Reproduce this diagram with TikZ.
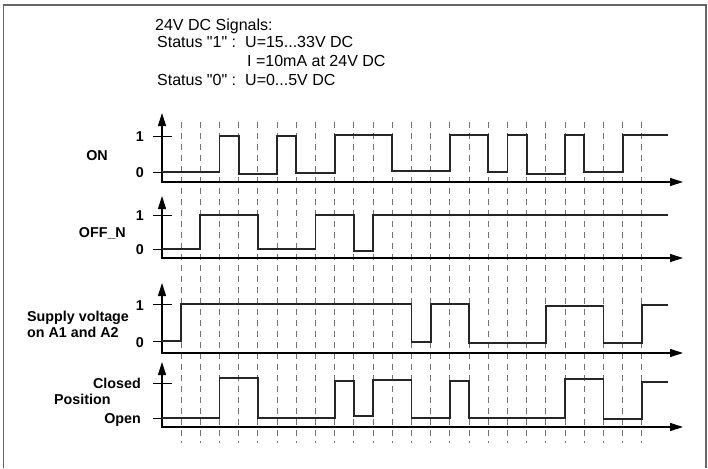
\documentclass[tikz,border=0pt]{standalone}
\usepackage{fontspec}
\setmainfont{Liberation Sans}
\usetikzlibrary{arrows.meta}

\begin{document}
\begin{tikzpicture}[x=1pt,y=-1pt,
	axes/.style={line width=1.1pt,{Triangle[length=13pt,width=8pt]}-{Triangle[length=13pt,width=8pt]}},
	grid/.style={black!55,line width=0.9pt,dash pattern=on 6pt off 5pt},
	sig/.style={black!85,line width=1.8pt},
	txt/.style={inner sep=0pt,font=\fontsize{16}{18}\selectfont},
	lbl/.style={inner sep=0pt,font=\bfseries\fontsize{14.3}{16}\selectfont}]
	\useasboundingbox (0,0) rectangle (708,468);
	
	%FRAME
	\draw[black!60,line width=1.5pt] (3.5,468)--(3.5,5)--(706,5)--(706,468);
	
	%HEADER
	\node[txt,anchor=base west] (title) at (155,31) {24V DC Signals:};
	\node[txt,anchor=base west] (stone) at (157,48) {Status \textquotedbl 1\textquotedbl\ :};
	\node[txt,anchor=base west] (uone) at (245,48) {U=15...33V DC};
	\node[txt,anchor=base west] (ione) at (247,67) {I =10mA at 24V DC};
	\node[txt,anchor=base west] (stzero) at (157,85) {Status \textquotedbl 0\textquotedbl\ :};
	\node[txt,anchor=base west] (uzero) at (245,85) {U=0...5V DC};
	
	%TIME GRID
	\foreach \i in {0,...,24}
		\draw[grid] ({181+19.2*\i},122)--({181+19.2*\i},443);
	
	%AXES
	\draw[axes] (162,113)--(162,182)--(683,182);	%ON
	\draw[axes] (162,196)--(162,258)--(683,258);	%OFF_N
	\draw[axes] (162,283)--(162,353)--(683,353);	%supply
	\draw[axes] (162,362)--(162,427)--(683,427);	%position
	%
	\draw[line width=1pt] (153,136)--(172,136);	\draw[line width=1pt] (153,172)--(172,172);
	\draw[line width=1pt] (153,215)--(172,215);	\draw[line width=1pt] (153,249)--(172,249);
	\draw[line width=1pt] (153,304)--(172,304);	\draw[line width=1pt] (153,341)--(172,341);
	\draw[line width=1pt] (153,383)--(172,383);	\draw[line width=1pt] (153,418)--(172,418);
	
	%SIGNALS (x in grid steps)
	\begin{scope}[shift={(181,0)},x=19.2pt]
		\draw[sig] (-1,172)-|(2,136)-|(3,174)-|(5,136)-|(6,173)-|(8,135)-|(11,171)-|(14,135)
			-|(16,172)-|(17,135)-|(18,174)-|(20,135)-|(21,172)-|(23,135)--(25.35,135);
		\draw[sig] (-1,249)-|(1,215)-|(4,249)-|(7,215)-|(9,251)-|(10,215)--(25.35,215);
		\draw[sig] (-1,341)-|(0,304)-|(12,342)-|(13,304)-|(15,343)-|(19,306)-|(22,343)-|(24,305)
			--(25.35,305);
		\draw[sig] (-1,418)-|(2,378)-|(4,418)-|(8,381)-|(9,416)-|(10,380)-|(12,418)-|(14,381)
			-|(15,418)-|(20,379)-|(22,419)-|(24,382)--(25.35,382);
	\end{scope}
	
	%LEVEL LABELS
	\node[lbl,anchor=base east] (onhi) at (144,141) {1};
	\node[lbl,anchor=base east] (onlo) at (144,177) {0};
	\node[lbl,anchor=base east] (offhi) at (144,220) {1};
	\node[lbl,anchor=base east] (offlo) at (144,254) {0};
	\node[lbl,anchor=base east] (suphi) at (144,310) {1};
	\node[lbl,anchor=base east] (suplo) at (144,347) {0};
	\node[lbl,anchor=base east] (closed) at (141,388) {Closed};
	\node[lbl,anchor=base east] (open) at (141,423.5) {Open};
	
	%ROW NAMES
	\node[lbl,anchor=base] (on) at (97,160.5) {ON};
	\node[lbl,anchor=base east] (offn) at (126,237.5) {OFF\_N};
	\node[lbl,anchor=base west] (supply) at (27,321.5) {Supply voltage};
	\node[lbl,anchor=base west] (supplyb) at (27,337.5) {on A1 and A2};
	\node[lbl,anchor=base west] (pos) at (54,404.5) {Position};
\end{tikzpicture}
\end{document}
